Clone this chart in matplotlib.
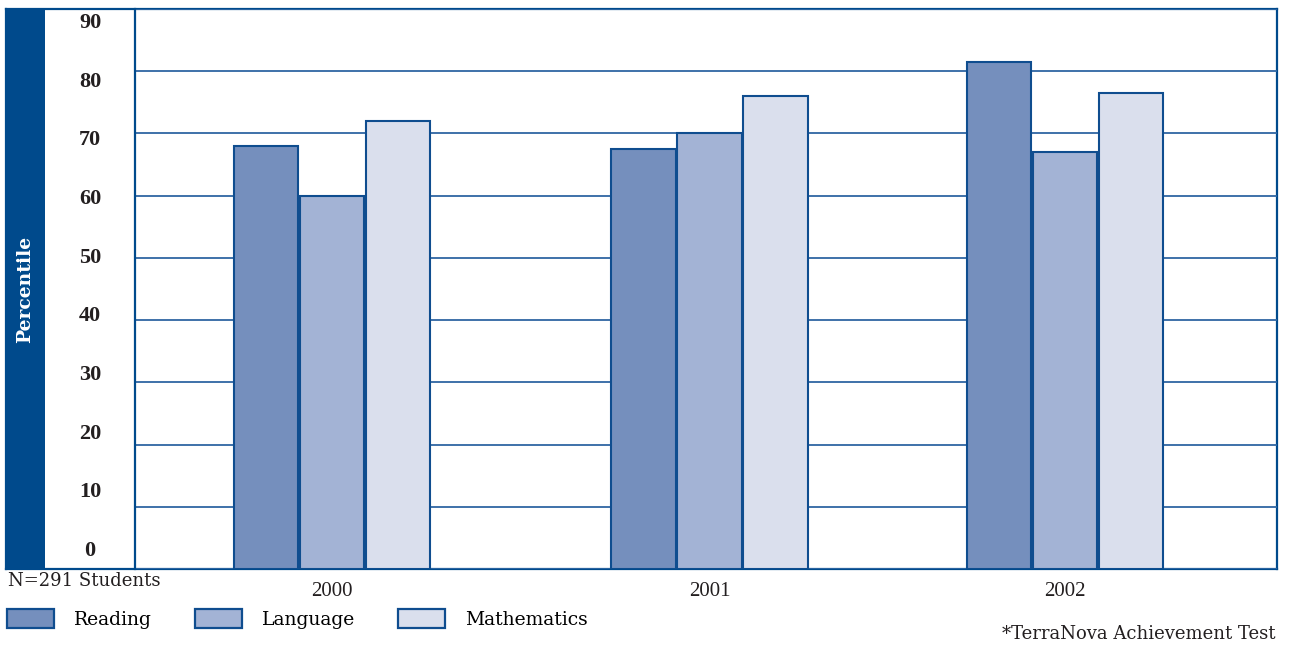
import numpy as np
import matplotlib
matplotlib.use("Agg")
import matplotlib.pyplot as plt
from matplotlib.patches import Rectangle, Patch

# TerraNova percentile scores by year
years = ["2000", "2001", "2002"]
subjects = ["Reading", "Language", "Mathematics"]
reading = [68, 67.5, 81.5]
language = [60, 70, 67]
mathematics = [72, 76, 76.5]
y_ticks = [0, 10, 20, 30, 40, 50, 60, 70, 80, 90]

navy = "#004a8c"
edge = "#0f4d8f"
grid_col = "#2f66a3"
fills = ["#758fbd", "#a3b3d5", "#dadfed"]

W, H = 1290, 645
fig = plt.figure(figsize=(W / 100, H / 100), dpi=100)


def box(x0, y0, x1, y1):
    # pixel box (top-left origin) -> figure fraction rect
    return [x0 / W, 1 - y1 / H, (x1 - x0) / W, (y1 - y0) / H]


# outer frame with the dark band holding the axis title
frame = fig.add_axes(box(6, 9, 1277, 569))
frame.set_xlim(0, 1)
frame.set_ylim(0, 1)
frame.set_xticks([])
frame.set_yticks([])
for s in frame.spines.values():
    s.set_color(navy)
    s.set_linewidth(1.6)
frame.add_patch(Rectangle((0, 0), 39 / 1271, 1, color=navy, lw=0))
frame.text(19 / 1271, 1 - 280 / 560, "Percentile", rotation=90, color="white",
           ha="center", va="center", fontsize=13.5, fontweight="bold",
           family="DejaVu Serif")

# tick label column
lab = fig.add_axes(box(45, 9, 135, 569))
lab.set_ylim(-3.07, 92.39)
lab.set_xlim(0, 1)
lab.axis("off")
for v in y_ticks:
    lab.text(0.5, v, str(v), ha="center", va="center", fontsize=16,
             fontweight="bold", family="Liberation Serif", color="#231f20")

# bars
ax = fig.add_axes(box(135, 9, 1277, 569))
ax.patch.set_alpha(0)
x = np.array([0, 1.03, 2])
w = 0.18
for i, (vals, col) in enumerate(zip([reading, language, mathematics], fills)):
    ax.bar(x + (i - 1) * w, vals, width=w * 0.98, color=col, edgecolor=edge,
           linewidth=1.5, zorder=3)

ax.set_ylim(0, 90)
ax.set_xlim(-0.5375, 2.578)
ax.set_yticks(y_ticks)
ax.set_yticklabels([])
ax.tick_params(axis="y", length=0)
ax.yaxis.grid(True, color=grid_col, linewidth=1.3, zorder=1)
ax.set_axisbelow(True)
ax.set_xticks(x)
ax.set_xticklabels(years, fontsize=15, family="Liberation Serif", color="#231f20")
ax.tick_params(axis="x", length=0, pad=9)
for side in ["top", "right", "bottom"]:
    ax.spines[side].set_visible(False)
ax.spines["left"].set_color(navy)
ax.spines["left"].set_linewidth(1.6)

fig.text(8 / W, 1 - 581 / H, "N=291 Students", ha="left", va="center",
         fontsize=13, family="DejaVu Serif", color="#231f20")
fig.text(1275 / W, 1 - 634 / H, "*TerraNova Achievement Test", ha="right",
         va="center", fontsize=13, family="DejaVu Serif", color="#231f20")

handles = [Patch(facecolor=c, edgecolor=edge, linewidth=1.6) for c in fills]
fig.legend(handles, subjects, loc="center left", bbox_to_anchor=(7 / W, 1 - 619 / H),
           ncol=3, frameon=False, borderpad=0, borderaxespad=0,
           handlelength=2.5, handleheight=1.2, handletextpad=1.07,
           columnspacing=2.3, prop={"family": "DejaVu Serif", "size": 13.5})

fig.savefig("out.png", dpi=100)
